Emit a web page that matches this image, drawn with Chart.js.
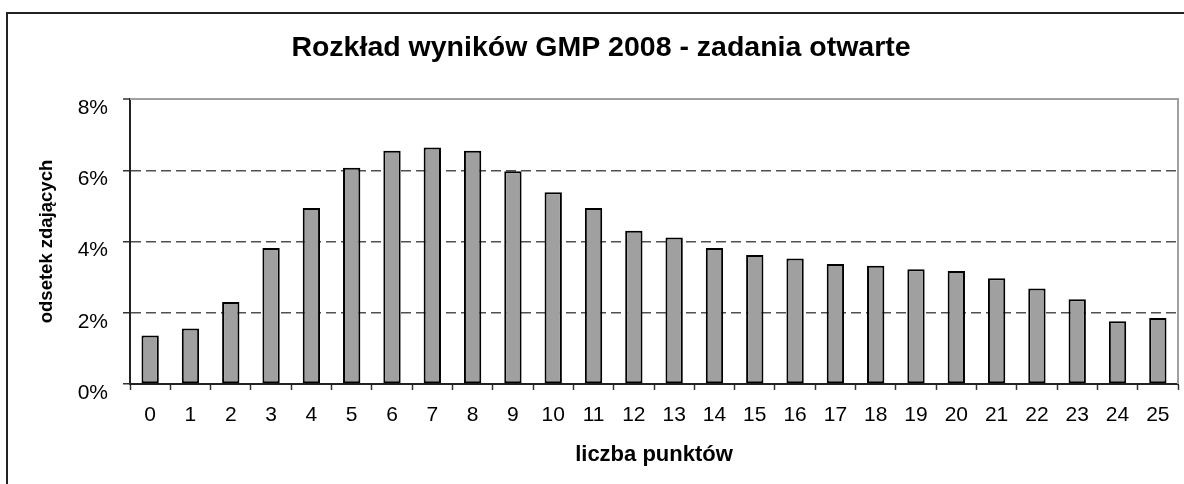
<!DOCTYPE html>
<html>
<head>
<meta charset="utf-8">
<script src="https://cdn.jsdelivr.net/npm/chart.js@4/dist/chart.umd.min.js"></script>
<style>
  html, body { margin: 0; padding: 0; background: #fff; }
  canvas { display: block; }
</style>
</head>
<body>
<canvas id="wynikiChart" width="1184" height="484"></canvas>
<script>
  // odsetek zdajacych dla kazdej liczby punktow (0-25)
  const data = {
    punkty: ['0','1','2','3','4','5','6','7','8','9','10','11','12','13','14','15','16','17','18','19','20','21','22','23','24','25'],
    odsetek: [1.36, 1.56, 2.30, 3.82, 4.94, 6.07, 6.55, 6.64, 6.55, 5.97, 5.38, 4.94, 4.30,
              4.11, 3.82, 3.62, 3.52, 3.37, 3.32, 3.22, 3.17, 2.97, 2.68, 2.38, 1.76, 1.85]
  };

  const FONT = "'Liberation Sans', Arial, sans-serif";
  Chart.defaults.font.family = FONT;
  Chart.defaults.color = '#000';

  // white background, outer frame and grey plot frame (top + right)
  const frames = {
    id: 'frames',
    beforeDraw(chart) {
      const c = chart.ctx;
      c.save();
      c.fillStyle = '#fff';
      c.fillRect(0, 0, chart.width, chart.height);
      c.strokeStyle = '#222';
      c.lineWidth = 2;
      c.strokeRect(7, 13, chart.width + 20, chart.height + 20);
      c.restore();
    },
    beforeDatasetsDraw(chart) {
      const a = chart.chartArea;
      const c = chart.ctx;
      c.save();
      c.strokeStyle = '#a0a0a0';
      c.lineWidth = 2;
      c.beginPath();
      c.moveTo(a.left, a.top);
      c.lineTo(a.right, a.top);
      c.lineTo(a.right, a.bottom);
      c.stroke();
      c.restore();
    }
  };

  const ctx = document.getElementById('wynikiChart').getContext('2d');
  new Chart(ctx, {
    type: 'bar',
    data: {
      labels: data.punkty,
      datasets: [{
        label: 'odsetek zdających',
        data: data.odsetek,
        backgroundColor: '#a0a0a0',
        borderColor: '#000',
        borderWidth: 2,
        borderSkipped: false,
        barPercentage: 0.43,
        categoryPercentage: 1
      }]
    },
    options: {
      responsive: false,
      animation: false,
      devicePixelRatio: 1,
      layout: { padding: { left: 24, right: 6, top: 0, bottom: 0 } },
      plugins: {
        legend: { display: false },
        tooltip: { enabled: false },
        title: {
          display: true,
          text: 'Rozkład wyników GMP 2008 - zadania otwarte',
          color: '#000',
          font: { size: 28.5, weight: 'bold', family: FONT },
          padding: { top: 31, bottom: 33.8 }
        }
      },
      scales: {
        x: {
          afterFit: scale => { scale.height = 100; },
          grid: {
            offset: true,
            drawOnChartArea: false,
            drawTicks: true,
            tickLength: 6,
            tickColor: '#333',
            tickWidth: 1.5
          },
          border: { display: true, color: '#222', width: 2 },
          ticks: {
            font: { size: 21 },
            padding: 12.5,
            maxRotation: 0,
            autoSkip: false
          },
          title: {
            display: true,
            text: 'liczba punktów',
            font: { size: 22, weight: 'bold' },
            padding: { top: 0, bottom: 16 }
          }
        },
        y: {
          min: 0,
          max: 8,
          afterFit: scale => { scale.width = 106; },
          grid: {
            color: c => c.tick && c.tick.value === 8 ? '#a0a0a0' : '#505050',
            lineWidth: c => c.tick && c.tick.value === 8 ? 2 : 1.5,
            drawTicks: true,
            tickLength: 7,
            tickColor: '#333',
            tickWidth: 1.5,
            tickBorderDash: []
          },
          border: {
            display: true,
            color: '#222',
            width: 2,
            dash: c => c.tick && c.tick.value > 0 && c.tick.value < 8 ? [10, 5] : []
          },
          ticks: {
            stepSize: 2,
            font: { size: 21 },
            padding: 15,
            labelOffset: 9,
            callback: v => v + '%'
          },
          title: {
            display: true,
            text: 'odsetek zdających',
            font: { size: 18.5, weight: 'bold' },
            padding: { top: 12, bottom: 0 }
          }
        }
      }
    },
    plugins: [frames]
  });
</script>
</body>
</html>
